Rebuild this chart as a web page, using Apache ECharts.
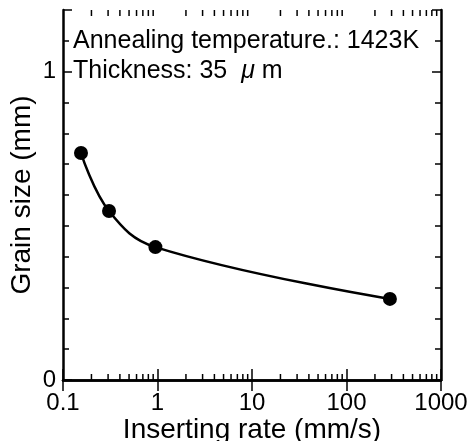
<!DOCTYPE html>
<html>
<head>
    <meta charset="utf-8">
    <title>Grain size vs inserting rate</title>
    <script src="https://cdn.jsdelivr.net/npm/echarts@6/dist/echarts.min.js"></script>
    <style>
        html, body { margin: 0; padding: 0; background: #fff; }
        #main { width: 470px; height: 441px; }
    </style>
</head>
<body>
    <div id="main"></div>
    <script type="text/javascript">
        // data
        var rates = [0.155, 0.307, 0.95, 288];        // inserting rate (mm/s)
        var grainSize = [0.736, 0.548, 0.431, 0.263]; // grain size (mm)
        var xTickLabels = ['0.1', '1', '10', '100', '1000'];
        var yTickLabels = ['0', '1'];
        // log minor ticks 2..9 of each decade
        var xMinorTicks = [0.2, 0.3, 0.4, 0.5, 0.6, 0.7, 0.8, 0.9,
            2, 3, 4, 5, 6, 7, 8, 9,
            20, 30, 40, 50, 60, 70, 80, 90,
            200, 300, 400, 500, 600, 700, 800, 900];

        var font = 'Liberation Sans, Arial, Helvetica, sans-serif';
        var chart = echarts.init(document.getElementById('main'));

        var points = rates.map(function (r, i) { return [r, grainSize[i]]; });

        var yAxisBase = {
            type: 'value',
            min: 0,
            max: 1.2,
            interval: 1,
            splitLine: { show: false },
            axisLine: { show: true, lineStyle: { color: '#000', width: 2.5 } },
            axisTick: { show: true, inside: true, length: 9, lineStyle: { color: '#000', width: 1.5 } },
            minorTick: { show: true, splitNumber: 10, length: 6, lineStyle: { color: '#000', width: 1.5 } }
        };

        var option = {
            animation: false,
            backgroundColor: '#fff',
            grid: { left: 63, right: 29, top: 10, bottom: 61, containLabel: false, outerBoundsMode: 'none' },
            xAxis: [{
                type: 'log',
                logBase: 10,
                min: 0.1,
                max: 1000,
                position: 'bottom',
                name: 'Inserting rate (mm/s)',
                nameLocation: 'middle',
                nameGap: 36,
                nameMoveOverlap: false,
                nameTextStyle: { fontFamily: font, fontSize: 28, color: '#000' },
                splitLine: { show: false },
                axisLine: { show: true, lineStyle: { color: '#000', width: 2.5 } },
                axisTick: { show: true, inside: true, length: 11, lineStyle: { color: '#000', width: 1.5 } },
                axisLabel: {
                    margin: 11,
                    fontFamily: font, fontSize: 24, color: '#000',
                    formatter: function (v) {
                        var i = Math.round(Math.log10(v)) + 1;
                        return xTickLabels[i] !== undefined ? xTickLabels[i] : '';
                    }
                }
            }, {
                type: 'log',
                logBase: 10,
                min: 0.1,
                max: 1000,
                position: 'top',
                splitLine: { show: false },
                axisLine: { show: true, lineStyle: { color: '#000', width: 2.5 } },
                axisTick: { show: true, inside: true, length: 11, lineStyle: { color: '#000', width: 1.5 } },
                axisLabel: { show: false }
            }],
            yAxis: [Object.assign({}, yAxisBase, {
                position: 'left',
                name: 'Grain size (mm)',
                nameLocation: 'middle',
                nameGap: 27,
                nameMoveOverlap: false,
                nameTextStyle: { fontFamily: font, fontSize: 28, color: '#000' },
                axisLabel: {
                    margin: 7,
                    padding: [8, 0, 0, 0],
                    fontFamily: font, fontSize: 24, color: '#000',
                    formatter: function (v) {
                        var k = Math.round(v);
                        return Math.abs(v - k) < 1e-6 && yTickLabels[k] !== undefined ? yTickLabels[k] : '';
                    }
                }
            }), Object.assign({}, yAxisBase, {
                position: 'right',
                axisLabel: { show: false }
            })],
            graphic: [{
                type: 'text',
                left: 73,
                top: 29,
                style: { text: 'Annealing temperature.: 1423K', font: '25px ' + font, fill: '#000' }
            }, {
                type: 'text',
                left: 73,
                top: 59,
                style: {
                    text: 'Thickness: 35 {mu|μ} m',
                    font: '25px ' + font,
                    fill: '#000',
                    rich: { mu: { fontStyle: 'italic', fontFamily: font, fontSize: 25, padding: [0, 0, 0, 7] } }
                }
            }],
            series: [{
                type: 'custom',
                xAxisIndex: 0,
                yAxisIndex: 0,
                silent: true,
                data: xMinorTicks.map(function (v) { return [v, 0]; }),
                renderItem: function (params, api) {
                    var cs = params.coordSys;
                    var x = api.coord([api.value(0), 0])[0];
                    var top = cs.y, bottom = cs.y + cs.height;
                    var st = { stroke: '#000', lineWidth: 1.5 };
                    return {
                        type: 'group',
                        children: [
                            { type: 'line', shape: { x1: x, y1: bottom, x2: x, y2: bottom - 6 }, style: st },
                            { type: 'line', shape: { x1: x, y1: top, x2: x, y2: top + 6 }, style: st }
                        ]
                    };
                }
            }, {
                type: 'line',
                xAxisIndex: 0,
                yAxisIndex: 0,
                data: points,
                smooth: 0.4,
                symbol: 'circle',
                symbolSize: 14,
                itemStyle: { color: '#000' },
                lineStyle: { color: '#000', width: 2.5 }
            }]
        };

        chart.setOption(option);
    </script>
</body>
</html>
